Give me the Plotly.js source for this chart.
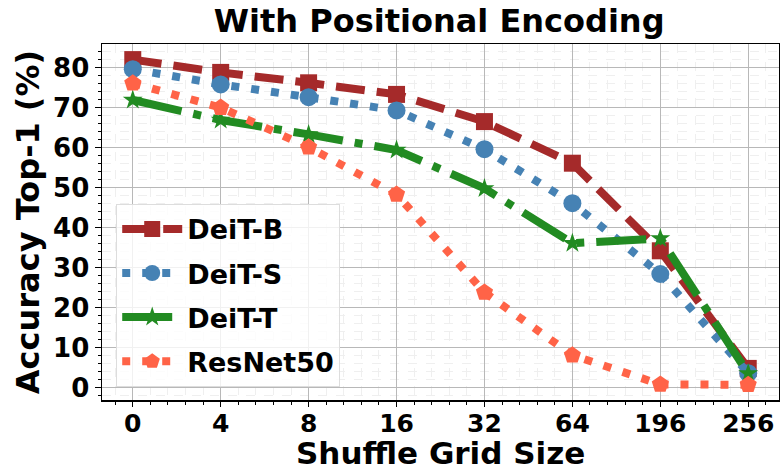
<!DOCTYPE html>
<html>
<head>
<meta charset="utf-8">
<script src="https://cdn.plot.ly/plotly-3.0.1.min.js"></script>
<style>html,body{margin:0;padding:0;background:#fff;}#chart{width:780px;height:472px;}</style>
</head>
<body>
<div id="chart"></div>
<script>
const categories = ["0", "4", "8", "16", "32", "64", "196", "256"];
const deitB = [82.0, 78.8, 76.2, 73.3, 66.5, 56.1, 34.2, 4.8];
const deitS = [79.6, 75.8, 72.6, 69.3, 59.6, 46.1, 28.4, 3.6];
const deitT = [71.9, 66.9, 63.3, 59.4, 49.8, 36.1, 37.3, 3.5];
const resnet50 = [76.1, 70.0, 60.1, 48.3, 23.8, 8.1, 0.8, 0.7];
const seriesNames = ["DeiT-B", "DeiT-S", "DeiT-T", "ResNet50"];
const xTitle = "Shuffle Grid Size";

const xs = categories.map((_, i) => i);
const F = "DejaVu Sans, sans-serif";

function tr(name, y, color, dash, symbol, msize) {
  return {
    x: xs, y: y, name: name, legendgroup: name, type: "scatter", mode: "lines+markers",
    line: {color: color, width: 8, dash: dash},
    marker: {color: color, symbol: symbol, size: msize},
  };
}

const data = [
  tr(seriesNames[0], deitB, "#a52a2a", "29px,12px", "square", 17),
  tr(seriesNames[1], deitS, "#4682b4", "8px,12px", "circle", 18),
  tr(seriesNames[2], deitT, "#228b22", "50px,12px,8px,12px", "star", 15),
  tr(seriesNames[3], resnet50, "#ff6347", "8px,12px", "pentagon", 18),
  // invisible helper on the tick-only axis so it is drawn
  {x: [xs[0]], y: [deitB[0]], xaxis: "x2", type: "scatter", mode: "markers",
   marker: {opacity: 0}, showlegend: false, hoverinfo: "skip"},
];

const layout = {
  width: 780, height: 472,
  margin: {l: 102, r: 1, t: 44, b: 72},
  paper_bgcolor: "#fff", plot_bgcolor: "#fff",
  font: {family: F, color: "#000", weight: "bold"},
  title: {text: "With Positional Encoding", font: {family: F, size: 32, weight: "bold", color: "#000"},
          x: 0.563, xanchor: "center", y: 0.955, yanchor: "middle"},
  xaxis: {
    range: [-0.35, 7.35], tickvals: xs, ticktext: categories,
    tickfont: {family: F, size: 25, weight: "bold"},
    showline: true, linecolor: "#000", linewidth: 1.5, mirror: true,
    ticks: "", showgrid: true, gridcolor: "#b8b8b8", gridwidth: 1, zeroline: false, automargin: false,
    minor: {dtick: 0.2, tick0: 0, ticks: "outside", ticklen: 3, tickcolor: "#000",
            showgrid: true, gridcolor: "#efefef", griddash: "dash", gridwidth: 1},
  },
  xaxis2: {
    overlaying: "x", side: "bottom", range: [-0.35, 7.35], tickvals: xs,
    showticklabels: false, ticks: "outside", ticklen: 6, tickcolor: "#000",
    showgrid: false, zeroline: false, showline: false, automargin: false,
  },
  yaxis: {
    range: [-3.1, 85.9], tickvals: [0, 10, 20, 30, 40, 50, 60, 70, 80],
    tickfont: {family: F, size: 26, weight: "bold"},
    title: {text: "Accuracy Top-1 (%)", font: {family: F, size: 32, weight: "bold"}, standoff: 4},
    showline: true, linecolor: "#000", linewidth: 1.5, mirror: true,
    ticks: "outside", ticklen: 6, tickcolor: "#000",
    showgrid: true, gridcolor: "#b8b8b8", gridwidth: 1, zeroline: false, automargin: false,
    minor: {dtick: 2, tick0: 0, ticks: "outside", ticklen: 3, tickcolor: "#000",
            showgrid: true, gridcolor: "#efefef", griddash: "dash", gridwidth: 1},
  },
  annotations: [{
    text: xTitle, xref: "paper", yref: "paper", x: 0.5, y: -0.149,
    xanchor: "center", yanchor: "middle", showarrow: false,
    font: {family: F, size: 31, weight: "bold", color: "#000"},
  }],
  legend: {
    x: 0.021, y: 0.037, xanchor: "left", yanchor: "bottom",
    bgcolor: "rgba(255,255,255,0.8)", bordercolor: "#dddddd", borderwidth: 1,
    font: {family: F, size: 27, weight: "bold", color: "#000"},
    itemwidth: 60, tracegroupgap: 6,
  },
  showlegend: true,
};

Plotly.newPlot("chart", data, layout, {displayModeBar: false, staticPlot: true});
</script>
</body>
</html>
